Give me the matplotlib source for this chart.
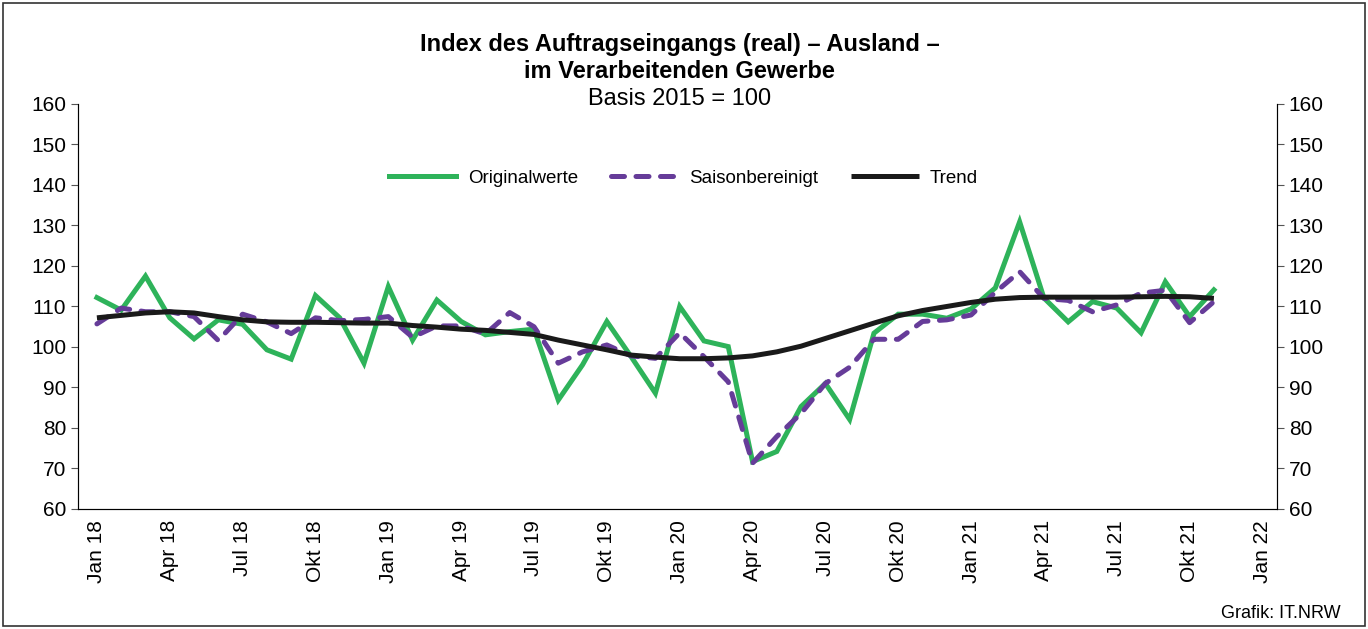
import numpy as np
import matplotlib
matplotlib.use('Agg')
import matplotlib.pyplot as plt
from matplotlib.patches import Rectangle

plt.rcParams['font.family'] = ['Liberation Sans', 'DejaVu Sans']

# Monatswerte Jan 18 bis Nov 21
original = [112.2, 109.1, 117.5, 107.2, 102.0, 106.7, 105.6, 99.3, 97.0, 112.7, 107.2, 96.0,
            114.9, 101.7, 111.6, 106.3, 103.0, 103.8, 104.4, 86.9, 95.6, 106.3, 97.6, 88.6,
            110.0, 101.5, 100.1, 71.7, 74.2, 85.3, 91.0, 82.1, 103.4, 108.1, 108.1, 107.1,
            109.4, 114.6, 130.9, 112.1, 106.2, 111.2, 109.6, 103.5, 116.1, 107.5, 114.1]
saison = [105.7, 109.6, 108.7, 108.7, 107.5, 101.6, 108.1, 106.2, 103.3, 107.2, 106.5, 106.8,
          107.5, 102.4, 105.2, 105.2, 103.2, 108.5, 105.0, 96.0, 98.8, 100.5, 97.8, 97.2,
          103.5, 97.6, 91.4, 71.3, 77.9, 83.6, 91.0, 95.0, 101.9, 101.9, 106.3, 106.7,
          107.9, 113.5, 118.6, 112.0, 111.5, 108.7, 110.4, 113.3, 114.0, 106.0, 111.2]
trend = [107.2, 107.8, 108.4, 108.7, 108.4, 107.5, 106.7, 106.2, 106.1, 106.1, 106.0, 105.9,
         105.9, 105.3, 104.9, 104.4, 104.1, 103.6, 103.1, 101.7, 100.5, 99.3, 98.0, 97.5,
         97.1, 97.1, 97.3, 97.8, 98.8, 100.2, 102.1, 104.0, 105.9, 107.7, 109.0, 110.0,
         111.0, 111.8, 112.2, 112.3, 112.3, 112.3, 112.3, 112.4, 112.5, 112.4, 112.0]
tick_labels = ['Jan 18', 'Apr 18', 'Jul 18', 'Okt 18', 'Jan 19', 'Apr 19', 'Jul 19', 'Okt 19',
               'Jan 20', 'Apr 20', 'Jul 20', 'Okt 20', 'Jan 21', 'Apr 21', 'Jul 21', 'Okt 21', 'Jan 22']

x = np.arange(len(original))

fig = plt.figure(figsize=(13.68, 6.29), dpi=100)
ax = fig.add_axes([0.057, 0.1908, 0.8765, 0.6439])

ax.plot(x, original, color='#2eb35a', lw=3.6, label='Originalwerte', solid_joinstyle='miter')
ax.plot(x, saison, color='#663c99', lw=3.6, ls=(0, (2.6, 2.3)), dash_capstyle='round',
        label='Saisonbereinigt')
ax.plot(x, trend, color='#1a1a1a', lw=3.6, label='Trend', solid_capstyle='butt')

ax.set_ylim(60, 160)
ax.set_yticks(range(60, 161, 10))
ax.set_xlim(-0.78, 48.6)
ax.set_xticks(range(0, 49, 3))
ax.set_xticklabels(tick_labels, rotation=90, fontsize=15)
ax.tick_params(axis='x', length=0, pad=8)
ax.tick_params(axis='y', labelsize=15, direction='out', length=5, color='#555555')
ax.spines['top'].set_visible(False)
for s in ['left', 'right', 'bottom']:
    ax.spines[s].set_color('#444444')

ax2 = ax.twinx()
ax2.set_ylim(60, 160)
ax2.set_yticks(range(60, 161, 10))
ax2.tick_params(axis='y', labelsize=15, direction='out', length=5, color='#555555')
ax2.spines['top'].set_visible(False)

ax.legend(loc='center', bbox_to_anchor=(0.505, 0.817), ncol=3, frameon=False,
          fontsize=13.5, handlelength=3.6, columnspacing=1.75, handletextpad=0.6)

fig.text(0.497, 0.929, 'Index des Auftragseingangs (real) \u2013 Ausland \u2013',
         ha='center', va='center', fontsize=17, fontweight='bold')
fig.text(0.497, 0.886, 'im Verarbeitenden Gewerbe', ha='center', va='center',
         fontsize=17, fontweight='bold')
fig.text(0.497, 0.843, 'Basis 2015 = 100', ha='center', va='center', fontsize=17)
fig.text(0.98, 0.025, 'Grafik: IT.NRW', ha='right', va='center', fontsize=13)

fig.patches.append(Rectangle((0.002, 0.004), 0.996, 0.992, transform=fig.transFigure,
                             fill=False, edgecolor='#333333', lw=1.2))

fig.savefig('out.png', dpi=100)
